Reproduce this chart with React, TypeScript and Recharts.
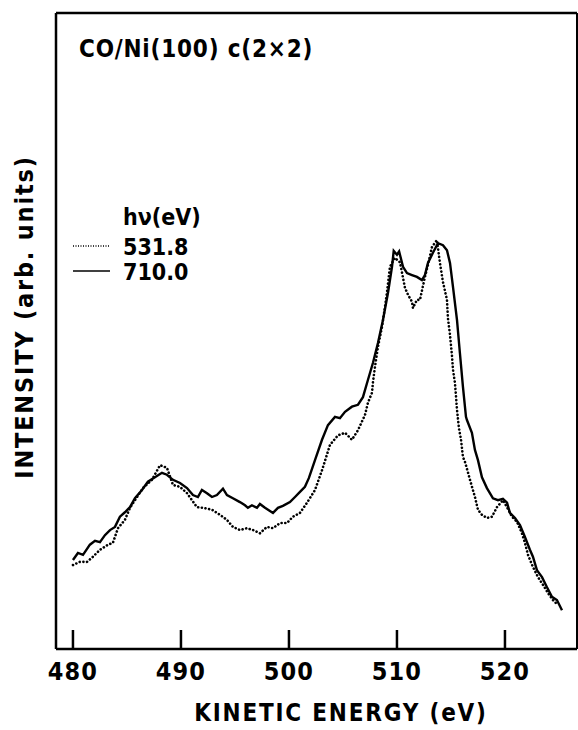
import { LineChart, Line, XAxis, YAxis } from "recharts";

// hv = 710.0 eV (solid)
const solidEnergy = [
  480.0, 480.46, 480.93, 481.57, 482.04, 482.5, 482.96, 483.43, 483.89, 484.35,
  484.81, 485.28, 485.74, 486.39, 486.94, 487.59, 488.24, 488.7, 489.26, 489.91,
  490.56, 491.11, 491.57, 491.94, 492.41, 492.87, 493.33, 493.89, 494.26, 494.81,
  495.46, 495.93, 496.2, 496.57, 497.04, 497.31, 497.78, 498.24, 498.52, 498.98,
  499.44, 500.09, 500.56, 501.02, 501.48, 501.85, 502.41, 503.06, 503.61, 504.26,
  504.72, 505.19, 505.83, 506.39, 506.85, 507.31, 507.78, 508.24, 508.7, 509.17,
  509.54, 509.7, 510.0, 510.2, 510.56, 510.93, 511.39, 511.85, 512.31, 512.59,
  512.87, 513.33, 513.8, 514.26, 514.63, 514.91, 515.19, 515.56, 515.83, 516.11,
  516.39, 516.48, 516.94, 517.22, 517.5, 517.87, 518.33, 518.89, 519.35, 519.81,
  520.19, 520.46, 520.93, 521.39, 521.85, 522.31, 522.59, 522.96, 523.43, 523.89,
  524.35, 524.81, 525.28,
];
const solidIntensity = [
  14.0, 15.1, 14.8, 16.4, 17.0, 16.8, 17.9, 18.7, 19.2, 20.8,
  21.5, 22.3, 23.7, 25.0, 26.3, 27.0, 27.7, 27.4, 26.6, 26.1,
  25.3, 24.2, 23.9, 25.0, 24.5, 23.9, 24.2, 25.2, 24.2, 23.7,
  23.1, 22.6, 22.2, 22.6, 22.2, 22.8, 22.2, 21.7, 21.4, 22.2,
  22.5, 23.1, 23.9, 24.7, 25.5, 26.9, 29.7, 32.9, 35.2, 36.5,
  36.3, 37.3, 38.1, 38.4, 39.6, 42.3, 45.0, 48.1, 51.7, 56.0,
  60.1, 62.6, 62.0, 62.5, 60.1, 59.1, 58.8, 58.5, 58.0, 58.8,
  60.7, 62.3, 63.8, 63.5, 62.7, 60.7, 56.9, 51.7, 46.5, 41.2,
  36.5, 36.0, 34.0, 31.3, 29.7, 27.0, 25.3, 23.7, 23.4, 23.6,
  23.0, 21.4, 20.6, 19.5, 17.6, 15.6, 14.5, 12.4, 11.3, 9.7,
  8.2, 7.7, 6.1,
];

// hv = 531.8 eV (dotted)
const dottedEnergy = [
  480.0, 480.65, 481.3, 481.85, 482.5, 483.24, 483.7, 484.17, 484.81, 485.28,
  485.93, 486.48, 487.31, 488.06, 488.7, 489.26, 489.91, 490.56, 491.48, 492.04,
  492.87, 493.61, 494.26, 494.81, 495.46, 496.11, 496.67, 497.31, 497.96, 498.52,
  499.17, 499.81, 500.37, 501.02, 501.67, 502.41, 503.06, 503.8, 504.54, 505.19,
  505.83, 506.39, 507.04, 507.31, 507.69, 507.78, 507.96, 508.24, 508.61, 508.89,
  509.07, 509.35, 509.81, 510.28, 510.74, 511.02, 511.39, 511.48, 511.85, 512.13,
  512.59, 512.87, 513.24, 513.7, 513.98, 514.26, 514.63, 514.72, 514.91, 515.09,
  515.19, 515.37, 515.46, 515.56, 515.74, 515.93, 516.11, 516.3, 516.57, 516.76,
  517.22, 517.5, 517.87, 518.33, 518.8, 519.26, 519.81, 520.19, 520.65, 521.11,
  521.57, 521.85, 522.13, 522.59, 523.06, 523.52, 523.98, 524.44, 524.91,
];
const dottedIntensity = [
  13.2, 13.7, 13.7, 14.5, 15.6, 16.4, 16.7, 19.0, 20.3, 22.2,
  23.9, 25.3, 26.6, 28.9, 28.5, 25.8, 25.5, 24.5, 22.3, 22.2,
  21.9, 21.1, 20.3, 19.2, 18.7, 19.0, 18.7, 18.2, 19.2, 19.0,
  19.8, 19.8, 20.8, 21.4, 23.0, 25.0, 28.1, 32.1, 33.6, 34.0,
  32.9, 34.4, 36.8, 38.7, 40.3, 42.0, 44.3, 47.5, 50.6, 53.8,
  56.0, 60.1, 61.5, 60.8, 56.8, 55.7, 54.6, 53.6, 54.9, 54.9,
  58.5, 60.4, 63.2, 64.3, 60.7, 57.7, 54.9, 52.0, 49.4, 46.2,
  43.9, 41.8, 39.9, 37.6, 34.7, 32.9, 30.2, 29.4, 27.8, 26.6,
  23.9, 21.9, 21.1, 20.6, 20.8, 22.3, 23.4, 22.3, 20.8, 20.0,
  18.2, 16.7, 14.8, 12.9, 11.3, 10.1, 8.8, 7.7, 6.9,
];

const energyTicks = [480, 490, 500, 510, 520];
const legendTitle = "hν(eV)";
const legendLabels = ["531.8", "710.0"];

const solidData = solidEnergy.map((x, i) => ({ x, y: solidIntensity[i] }));
const dottedData = dottedEnergy.map((x, i) => ({ x, y: dottedIntensity[i] }));

const FONT = "'DejaVu Sans Condensed', 'DejaVu Sans', sans-serif";

const EnergyTick = (props: any) => {
  const { x, y, payload } = props;
  return (
    <g>
      <line x1={x} x2={x} y1={y - 19} y2={y} stroke="#000" strokeWidth={2.5} />
      <text
        x={x}
        y={y + 31}
        textAnchor="middle"
        fontFamily={FONT}
        fontWeight="bold"
        fontSize={25}
        letterSpacing={1.2}
        fill="#000"
      >
        {payload.value}
      </text>
    </g>
  );
};

export default function App() {
  return (
    <div style={{ position: "absolute", left: 0, top: 0, width: 578, height: 730, background: "#fff" }}>
      <LineChart
        width={578}
        height={730}
        margin={{ top: 12, right: 0, left: 55, bottom: 80 }}
      >
        <XAxis
          xAxisId="bottom"
          dataKey="x"
          type="number"
          domain={[478.43, 526.67]}
          ticks={energyTicks}
          tick={<EnergyTick />}
          tickLine={false}
          tickSize={0}
          tickMargin={0}
          axisLine={{ stroke: "#000", strokeWidth: 2.5 }}
          allowDataOverflow
          height={1}
        />
        <XAxis
          xAxisId="top"
          orientation="top"
          type="number"
          domain={[478.43, 526.67]}
          tick={false}
          tickLine={false}
          axisLine={{ stroke: "#000", strokeWidth: 2.5 }}
          height={1}
        />
        <YAxis
          yAxisId="left"
          type="number"
          domain={[0, 100]}
          tick={false}
          tickLine={false}
          axisLine={{ stroke: "#000", strokeWidth: 2.5 }}
          width={1}
        />
        <YAxis
          yAxisId="right"
          orientation="right"
          type="number"
          domain={[0, 100]}
          tick={false}
          tickLine={false}
          axisLine={{ stroke: "#000", strokeWidth: 2 }}
          width={1}
        />
        <Line
          xAxisId="bottom"
          yAxisId="left"
          data={dottedData}
          dataKey="y"
          name={legendLabels[0]}
          stroke="#000"
          strokeWidth={2.6}
          strokeDasharray="0.1 3.6"
          strokeLinecap="round"
          dot={false}
          type="linear"
          isAnimationActive={false}
        />
        <Line
          xAxisId="bottom"
          yAxisId="left"
          data={solidData}
          dataKey="y"
          name={legendLabels[1]}
          stroke="#000"
          strokeWidth={2.4}
          dot={false}
          type="linear"
          isAnimationActive={false}
        />
      </LineChart>
      <svg
        width={578}
        height={730}
        style={{ position: "absolute", left: 0, top: 0, pointerEvents: "none" }}
      >
        <text x={79} y={57} fontFamily={FONT} fontWeight="bold" fontSize={24} letterSpacing={0.8} fill="#000">
          CO/Ni(100) c(2×2)
        </text>
        <g fontFamily={FONT} fontWeight="bold" fontSize={23} fill="#000">
          <text x={123} y={225}>{legendTitle}</text>
          <line x1={73} x2={110} y1={246} y2={246} stroke="#000" strokeWidth={1.5} strokeDasharray="1 1.5" />
          <text x={123} y={255}>{legendLabels[0]}</text>
          <line x1={73} x2={110} y1={271} y2={271} stroke="#000" strokeWidth={1.5} />
          <text x={123} y={280}>{legendLabels[1]}</text>
        </g>
        <text
          x={341}
          y={721}
          textAnchor="middle"
          fontFamily={FONT}
          fontWeight="bold"
          fontSize={24}
          letterSpacing={1.8}
          fill="#000"
        >
          KINETIC ENERGY (eV)
        </text>
        <text
          x={0}
          y={0}
          transform="translate(33,317) rotate(-90)"
          textAnchor="middle"
          fontFamily={FONT}
          fontWeight="bold"
          fontSize={25}
          letterSpacing={1.8}
          fill="#000"
        >
          INTENSITY (arb. units)
        </text>
      </svg>
    </div>
  );
}
